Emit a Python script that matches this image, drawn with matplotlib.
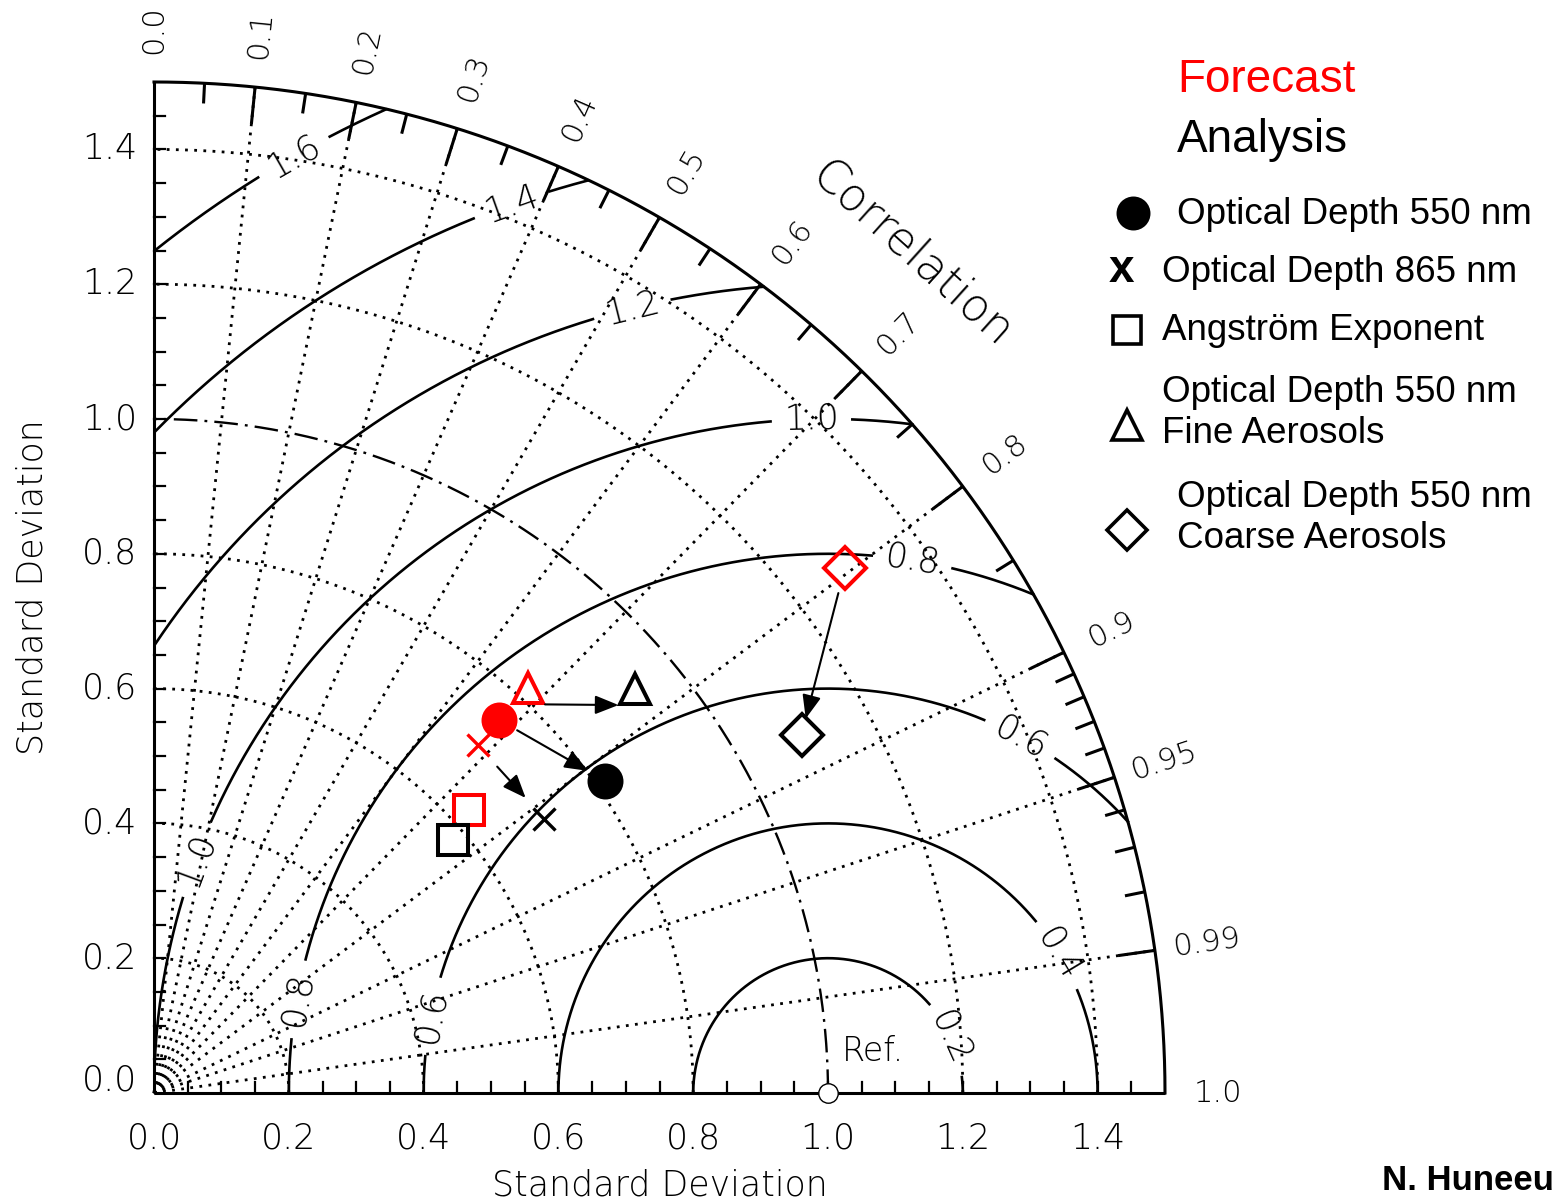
import numpy as np
import matplotlib
matplotlib.use("Agg")
import matplotlib.pyplot as plt
import matplotlib.transforms as mtrans

# ---- values ----
variables = ["Optical Depth 550 nm", "Optical Depth 865 nm", "Angström Exponent",
             "Optical Depth 550 nm\nFine Aerosols", "Optical Depth 550 nm\nCoarse Aerosols"]
forecast_std  = [0.754, 0.705, 0.628, 0.818, 1.288]
forecast_corr = [0.679, 0.681, 0.744, 0.679, 0.796]
analysis_std  = [0.814, 0.708, 0.581, 0.932, 1.098]
analysis_corr = [0.822, 0.818, 0.764, 0.766, 0.875]
has_arrow     = [True, True, False, True, True]

std_ticks = [0.0, 0.2, 0.4, 0.6, 0.8, 1.0, 1.2, 1.4]
corr_labels = [0.0, 0.1, 0.2, 0.3, 0.4, 0.5, 0.6, 0.7, 0.8, 0.9, 0.95, 0.99, 1.0]
corr_major = [0.1, 0.2, 0.3, 0.4, 0.5, 0.6, 0.7, 0.8, 0.9, 0.95, 0.99]
corr_minor = [0.05, 0.15, 0.25, 0.35, 0.45, 0.55, 0.65, 0.75, 0.85,
              0.91, 0.92, 0.93, 0.94, 0.96, 0.97, 0.98]
rms_levels = [0.2, 0.4, 0.6, 0.8, 1.0, 1.2, 1.4, 1.6]
# where each RMS circle is labelled (angle in degrees around the reference point)
rms_label_angles = {0.2: [24], 0.4: [31], 0.6: [61.5, 169], 0.8: [81, 170],
                    1.0: [91.4, 159.7], 1.2: [104], 1.4: [109.6], 1.6: [119.7]}

# ---- styles ----
markers = ["o", "x", "s", "^", "D"]
msizes  = [23, 16, 21, 22, 21]
filled  = [True, False, False, False, False]
shrinks = [(15, 14), (21, 20), (12, 12), (12, 12), (19, 12)]
RED = "#FF0000"
DIAG_FONT = "DejaVu Sans"
LEG_FONT = ["Liberation Sans", "DejaVu Sans"]
RMAX = 1.5

W, H = 1556, 1204
fig = plt.figure(figsize=(W / 100, H / 100), dpi=100)
fig.patch.set_facecolor("white")
ax = fig.add_axes([154 / W, 1 - 1093 / H, 1011 / W, 1011 / H])
ax.set_xlim(0, RMAX)
ax.set_ylim(0, RMAX)
ax.set_axis_off()

def fpos(px, py):
    return px / W, 1 - py / H

th = np.linspace(0, np.pi / 2, 600)

# frame: axes and outer arc
ax.plot([0, 0], [0, RMAX], color="k", lw=2.2, clip_on=False, solid_capstyle="butt")
ax.plot([0, RMAX], [0, 0], color="k", lw=2.2, clip_on=False, solid_capstyle="butt")
ax.plot(RMAX * np.cos(th), RMAX * np.sin(th), color="k", lw=2.2, clip_on=False)

# std dev arcs
for r in std_ticks[1:]:
    if r == 1.0:
        ax.plot(r * np.cos(th), r * np.sin(th), color="k", lw=1.7,
                linestyle=(0, (10, 3, 1.2, 3)), clip_on=False)
    else:
        ax.plot(r * np.cos(th), r * np.sin(th), color="k", lw=2.0,
                linestyle=(0, (1, 2.3)), clip_on=False)

# correlation rays
for c in corr_major:
    a = np.arccos(c)
    ax.plot([0, RMAX * np.cos(a)], [0, RMAX * np.sin(a)], color="k", lw=2.0,
            linestyle=(0, (1, 2.3)), clip_on=False)

# ticks on the arc
for cl, ln in [(corr_major, 0.055), (corr_minor, 0.03)]:
    for c in cl:
        a = np.arccos(c)
        ax.plot([RMAX * np.cos(a), (RMAX - ln) * np.cos(a)],
                [RMAX * np.sin(a), (RMAX - ln) * np.sin(a)],
                color="k", lw=2.2, clip_on=False, solid_capstyle="butt")

# ticks on the axes
for v in np.arange(1, 30) * 0.05:
    ax.plot([v, v], [0, 0.016], color="k", lw=1.6, clip_on=False)
    ax.plot([0, 0.016], [v, v], color="k", lw=1.6, clip_on=False)

for v in std_ticks:
    ax.text(v, -0.068, f"{v:.1f}", ha="center", va="center", fontsize=25,
            family=DIAG_FONT, fontweight="light")
    ax.text(-0.025, v + (0.018 if v == 0 else 0), f"{v:.1f}", ha="right",
            va="center", fontsize=25, family=DIAG_FONT, fontweight="light")

for c in corr_labels:
    a = np.arccos(c)
    lab = f"{c:.2f}" if c in (0.95, 0.99) else f"{c:.1f}"
    ax.text(1.578 * np.cos(a), 1.578 * np.sin(a), lab, rotation=np.degrees(a),
            ha="center", va="center", fontsize=22, family=DIAG_FONT,
            fontweight="light", clip_on=False)

ax.text(1.124, 1.245, "Correlation", rotation=-42, ha="center", va="center",
        fontsize=33, family=DIAG_FONT, fontweight="light")
ax.text(0.75, -0.137, "Standard Deviation", ha="center", va="center",
        fontsize=25, family=DIAG_FONT, fontweight="light")
ax.text(-0.181, 0.75, "Standard Deviation", rotation=90, ha="center", va="center",
        fontsize=25, family=DIAG_FONT, fontweight="light")

# centred RMS difference circles with label gaps
phi = np.linspace(0, np.pi, 3000)
for r in rms_levels:
    x = 1.0 + r * np.cos(phi)
    y = r * np.sin(phi)
    keep = (x >= 0) & (y >= 0) & (x ** 2 + y ** 2 <= RMAX ** 2)
    for ang in rms_label_angles[r]:
        keep &= np.abs(phi - np.radians(ang)) > 0.06 / r
    ax.plot(np.where(keep, x, np.nan), np.where(keep, y, np.nan), color="k", lw=1.9)
    for ang in rms_label_angles[r]:
        p = np.radians(ang)
        ax.text(1.0 + r * np.cos(p), r * np.sin(p), f"{r:.1f}", rotation=ang - 90,
                ha="center", va="center", fontsize=25, family=DIAG_FONT,
                fontweight="light")

# reference point
ax.plot([1.0], [0.0], "o", mfc="white", mec="k", ms=14, mew=1.0, clip_on=False, zorder=5)
ax.text(1.02, 0.061, "Ref.", ha="left", va="center", fontsize=24,
        family=DIAG_FONT, fontweight="light")

# data points
def polar_xy(s, c):
    return s * c, s * np.sqrt(1 - c ** 2)

for i in range(len(variables)):
    fx, fy = polar_xy(forecast_std[i], forecast_corr[i])
    axx, ayy = polar_xy(analysis_std[i], analysis_corr[i])
    for (px, py, col) in [(fx, fy, RED), (axx, ayy, "k")]:
        if markers[i] == "x":
            ax.plot(px, py, "x", color=col, ms=msizes[i], mew=2.4, zorder=6)
        else:
            ax.plot(px, py, markers[i], ms=msizes[i], mew=2.9, mec=col,
                    mfc=col if filled[i] else "none", zorder=6)
    if not has_arrow[i]:
        continue
    tr = ax.transData
    if markers[i] == "^":
        tr = mtrans.offset_copy(ax.transData, fig=fig, x=0, y=-16, units="dots")
    ax.annotate("", xy=(axx, ayy), xytext=(fx, fy), xycoords=tr, textcoords=tr,
                arrowprops=dict(arrowstyle="-|>,head_length=0.55,head_width=0.22",
                                color="k", lw=1.5, mutation_scale=26,
                                shrinkA=shrinks[i][0], shrinkB=shrinks[i][1]),
                zorder=7)

# legend (drawn by hand)
fig.text(*fpos(1177, 80), "Forecast", color=RED, fontsize=33, va="center",
         family=LEG_FONT)
fig.text(*fpos(1177, 140), "Analysis", color="k", fontsize=33, va="center",
         family=LEG_FONT)
leg_marker_pos = [(1133, 213), (1121, 270), (1127, 330), (1127, 425), (1127, 530)]
leg_text_pos = [(1177, 215), (1162, 272), (1162, 330), (1162, 413), (1177, 518)]
for i, name in enumerate(variables):
    mx, my = fpos(*leg_marker_pos[i])
    if markers[i] == "x":
        fig.text(mx, my, "x", fontsize=33, fontweight="bold", ha="center",
                 va="center", family=LEG_FONT)
    else:
        ax.plot([mx], [my], markers[i], transform=fig.transFigure, clip_on=False,
                ms=msizes[i] * 0.95, mew=2.6, mec="k",
                mfc="k" if filled[i] else "none")
    fig.text(*fpos(*leg_text_pos[i]), name, fontsize=26.5, va="center",
             family=LEG_FONT, linespacing=1.25)

fig.text(*fpos(1554, 1180), "N. Huneeu", fontsize=25, fontweight="bold",
         ha="right", va="center", family=LEG_FONT)

fig.savefig("out.png", dpi=100, facecolor="white")
